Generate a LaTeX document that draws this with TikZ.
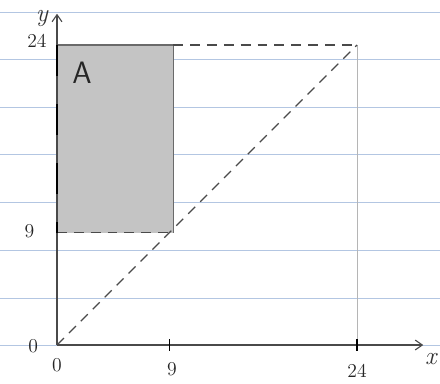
\documentclass[tikz,border=0pt]{standalone}
\usepackage{tikz}
\usetikzlibrary{arrows.meta,calc}
\definecolor{cRule}{HTML}{B3C6E2}
\definecolor{cShade}{HTML}{C4C4C4}
\definecolor{cEdge}{HTML}{6A6A6A}
\definecolor{cPen}{HTML}{4A4A4A}
\definecolor{cGuide}{HTML}{B5B5B5}
\tikzset{
  ruleline/.style={draw=cRule,line width=0.7pt},
  axisline/.style={draw=cPen,line width=0.8pt,-{Straight Barb[length=5pt,width=7pt]}},
  regionbox/.style={fill=cShade,draw=none},
  regionedge/.style={draw=cEdge,line width=1pt},
  dashline/.style={draw=cPen,line width=0.8pt,dash pattern=on 7pt off 5pt},
  guideline/.style={draw=cGuide,line width=0.5pt},
  leftmark/.style={draw=black,line width=1.8pt,dash pattern=on 22pt off 20pt},
  ticklab/.style={font=\fontsize{14}{15}\selectfont,text=black!85,inner sep=0pt},
  axlab/.style={font=\itshape\fontsize{18}{19}\selectfont,text=black!80,inner sep=0pt},
}
\begin{document}
\begin{tikzpicture}[x=0.3125cm,y=0.3125cm]
  \useasboundingbox (-4.56,-3.04) rectangle (30.64,27.6);
  \fill[white] (-4.56,-3.04) rectangle (30.64,27.6);

  % ruled paper
  \foreach \ry in {26.64,22.88,19.04,15.28,11.44,7.6,3.76,0}
    \draw[ruleline] (-4.56,\ry) -- (30.64,\ry);

  % points
  \coordinate (O) at (0,0);
  \coordinate (Y9) at (0,9);
  \coordinate (Y24) at (0,24);
  \coordinate (X9) at (9,0);
  \coordinate (X24) at (24,0);
  \coordinate (P9) at (9.3,9);
  \coordinate (P9t) at (9.3,24);
  \coordinate (P24) at (24,24);
  \coordinate (Xend) at (29.3,0);
  \coordinate (Yend) at (0,26.5);

  % region A
  \fill[regionbox] (Y9) rectangle (P9t);
  \draw[regionedge] (Y24) -- (P9t) -- (P9);
  \draw[dashline] (Y9) -- (P9);

  % guides
  \draw[guideline] (P24) -- (X24);
  \draw[dashline] (P9t) -- (P24);
  \draw[dashline] (O) -- (P24);

  % axes
  \draw[axisline] (O) -- (Xend);
  \draw[axisline] (O) -- (Yend);
  \draw[leftmark] (Y24) -- (Y9);
  \draw[draw=black,line width=1pt] ($(X9)+(0,-0.45)$) -- ($(X9)+(0,0.45)$);
  \draw[draw=black,line width=1.4pt] ($(X24)+(0,-0.45)$) -- ($(X24)+(0,0.45)$);

  % labels
  \node[axlab] (ylab) at (-1.2,26.1) {y};
  \node[axlab] (xlab) at (29.9,-1.1) {x};
  \node[ticklab] (l24y) at (-1.6,24.3) {24};
  \node[ticklab] (l9y) at (-2.2,9.1) {9};
  \node[ticklab] (lOy) at (-1.9,-0.1) {0};
  \node[ticklab] (l0x) at (0,-1.6) {0};
  \node[ticklab] (l9x) at (9.2,-1.9) {9};
  \node[ticklab] (l24x) at (24,-2.1) {24};
  \node[font=\sffamily\fontsize{22}{24}\selectfont,text=black!85,inner sep=0pt] (areaA) at (2,21.8) {A};
\end{tikzpicture}
\end{document}
